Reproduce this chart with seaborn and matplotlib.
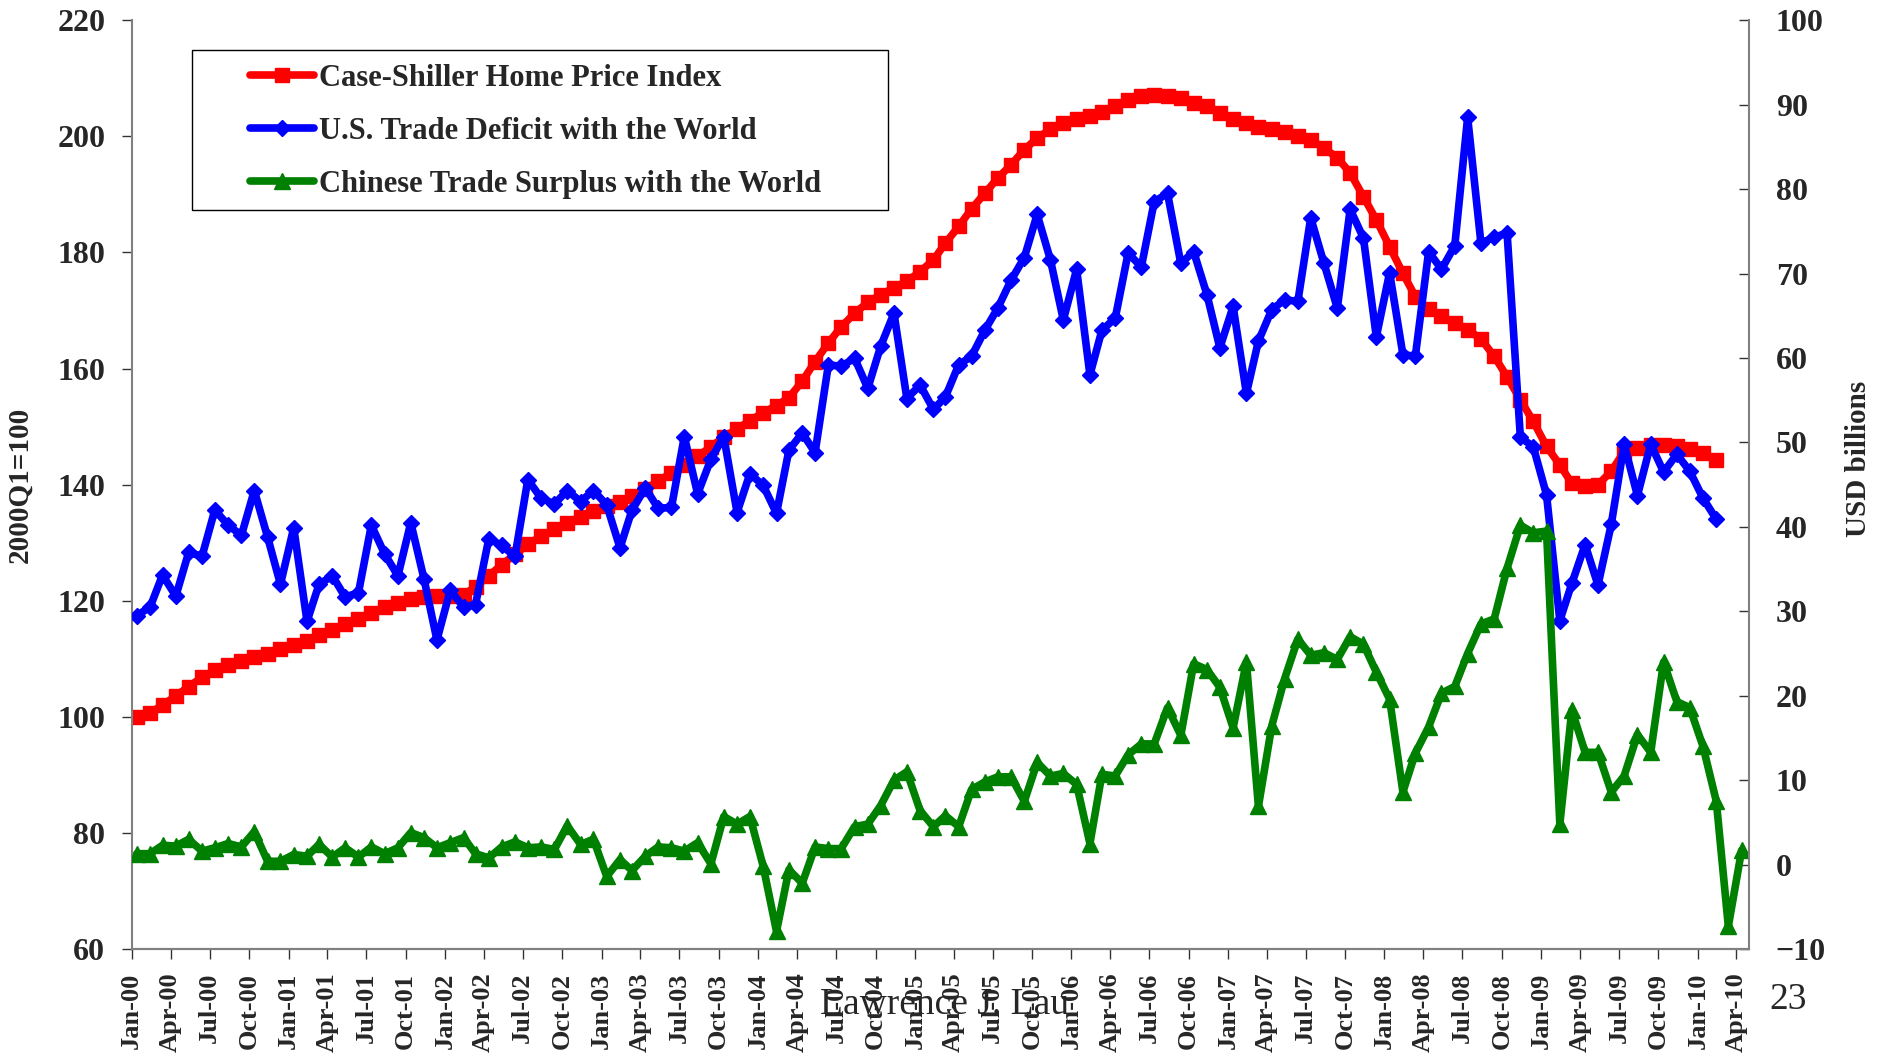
import pandas as pd
import seaborn as sns
import matplotlib
import matplotlib.pyplot as plt
import matplotlib.dates as mdates
from matplotlib.patches import Rectangle

matplotlib.use('Agg')

# Monthly series, Jan-2000 onwards
start_month = '2000-01-01'

# S&P/Case-Shiller home price index (left axis), Jan-00 .. Feb-10
case_shiller = [
    100.0, 100.7, 102.0, 103.6, 105.2, 106.8, 108.0, 109.0, 109.6, 110.3, 110.9, 111.7,
    112.3, 113.1, 114.1, 115.0, 116.0, 116.9, 117.9, 118.9, 119.6, 120.3, 120.6, 120.8,
    120.8, 121.0, 122.4, 124.3, 126.2, 128.0, 129.7, 131.1, 132.3, 133.4, 134.5, 135.5,
    136.3, 137.0, 138.1, 139.2, 140.6, 142.0, 143.4, 144.9, 146.5, 148.2, 149.6, 151.0,
    152.4, 153.6, 155.0, 157.8, 161.2, 164.4, 167.2, 169.5, 171.4, 172.7, 173.9, 175.0,
    176.7, 178.7, 181.6, 184.5, 187.5, 190.2, 192.8, 195.1, 197.7, 199.7, 201.2, 202.3,
    202.9, 203.5, 204.2, 205.2, 206.2, 206.9, 207.2, 207.0, 206.6, 205.8, 205.3, 204.0,
    203.0, 202.3, 201.6, 201.3, 200.7, 200.0, 199.4, 198.0, 196.3, 193.7, 189.6, 185.6,
    181.0, 176.4, 172.4, 170.2, 169.0, 167.9, 166.7, 165.1, 162.1, 158.6, 154.6, 150.9,
    146.6, 143.4, 140.2, 139.7, 140.0, 142.3, 145.7, 146.3, 146.9, 146.9, 146.6, 146.1,
    145.5, 144.2,
]

# U.S. trade deficit with the world, USD billions (right axis), Jan-00 .. Feb-10
us_deficit = [
    29.5, 30.5, 34.3, 31.8, 37.0, 36.5, 42.0, 40.2, 39.0, 44.3, 38.8, 33.2,
    39.9, 28.8, 33.2, 34.2, 31.7, 32.2, 40.2, 36.8, 34.2, 40.5, 33.8, 26.6,
    32.5, 30.5, 30.8, 38.6, 37.8, 36.5, 45.6, 43.4, 42.7, 44.3, 43.0, 44.3,
    42.6, 37.5, 42.0, 44.6, 42.2, 42.3, 50.7, 43.9, 48.0, 50.7, 41.7, 46.3,
    44.9, 41.6, 49.1, 51.1, 48.8, 59.2, 59.0, 60.0, 56.4, 61.4, 65.3, 55.2,
    56.8, 53.9, 55.4, 59.2, 60.2, 63.3, 65.9, 69.2, 71.9, 77.0, 71.6, 64.5,
    70.5, 58.0, 63.3, 64.7, 72.4, 70.8, 78.5, 79.5, 71.2, 72.6, 67.5, 61.2,
    66.1, 55.8, 62.0, 65.7, 66.9, 66.7, 76.6, 71.2, 65.9, 77.6, 74.2, 62.5,
    70.1, 60.4, 60.2, 72.6, 70.5, 73.3, 88.5, 73.6, 74.3, 74.8, 50.6, 49.5,
    43.8, 28.9, 33.3, 37.9, 33.1, 40.3, 49.8, 43.7, 49.8, 46.5, 48.6, 46.6,
    43.4, 40.9,
]

# Chinese trade surplus with the world, USD billions (right axis), Jan-00 .. Apr-10
china_surplus = [
    1.3, 1.3, 2.3, 2.2, 3.0, 1.6, 2.0, 2.5, 2.1, 3.9, 0.4, 0.4,
    1.2, 1.0, 2.4, 0.9, 2.0, 0.9, 2.1, 1.3, 2.0, 3.8, 3.2, 2.0,
    2.6, 3.2, 1.3, 0.8, 2.1, 2.7, 2.0, 2.1, 1.8, 4.6, 2.4, 3.0,
    -1.4, 0.6, -0.7, 1.0, 2.1, 2.0, 1.6, 2.6, 0.1, 5.7, 4.8, 5.7,
    -0.2, -7.9, -0.6, -2.2, 2.1, 1.9, 1.9, 4.5, 4.8, 7.0, 10.0, 11.0,
    6.4, 4.5, 5.8, 4.5, 8.9, 9.8, 10.4, 10.4, 7.5, 12.1, 10.5, 10.8,
    9.5, 2.5, 10.7, 10.5, 13.0, 14.3, 14.3, 18.6, 15.3, 23.8, 23.1, 21.0,
    16.2, 24.0, 6.9, 16.4, 22.0, 26.7, 24.8, 25.1, 24.3, 27.0, 26.1, 22.8,
    19.6, 8.6, 13.2, 16.3, 20.3, 21.1, 25.0, 28.5, 29.1, 35.1, 40.2, 39.3,
    39.5, 4.8, 18.3, 13.3, 13.3, 8.6, 10.5, 15.4, 13.3, 24.0, 19.3, 18.6,
    14.0, 7.5, -7.3, 1.7,
]

labels = [
    'Case-Shiller Home Price Index',
    'U.S. Trade Deficit with the World',
    'Chinese Trade Surplus with the World',
]


def main():
    sns.set_style('white')
    plt.rcParams['font.family'] = ['Liberation Serif', 'DejaVu Serif']
    plt.rcParams['font.weight'] = 'bold'
    plt.rcParams['axes.labelweight'] = 'bold'

    # monthly observations, plotted a little after the first of the month
    months = pd.date_range(start_month, periods=len(china_surplus), freq='MS') + pd.Timedelta(days=12)

    fig = plt.figure(figsize=(18.81, 10.64), dpi=100)
    ax = fig.add_axes([0.070, 0.108, 0.860, 0.873])
    ax2 = ax.twinx()

    line_kw = dict(linewidth=5.5, markeredgewidth=1)
    sns.lineplot(x=months[:len(case_shiller)], y=case_shiller, ax=ax, color='#ff0000',
                 marker='s', markersize=9.5, markeredgecolor='#ff0000', label=labels[0], **line_kw)
    sns.lineplot(x=months[:len(us_deficit)], y=us_deficit, ax=ax2, color='#0000ff',
                 marker='D', markersize=8.5, markeredgecolor='#0000ff', label=labels[1], **line_kw)
    sns.lineplot(x=months, y=china_surplus, ax=ax2, color='#008000',
                 marker='^', markersize=11.5, markeredgecolor='#008000', label=labels[2], **line_kw)

    for a in (ax, ax2):
        if a.get_legend() is not None:
            a.get_legend().remove()

    # axes ranges
    ax.set_xlim(pd.Timestamp('2000-01-01'), pd.Timestamp('2010-05-01'))
    ax.set_ylim(60, 220)
    ax.set_yticks(range(60, 221, 20))
    ax2.set_ylim(-10, 100)
    ax2.set_yticks(range(-10, 101, 10))

    ax.xaxis.set_major_locator(mdates.MonthLocator(bymonth=[1, 4, 7, 10]))
    ax.xaxis.set_major_formatter(mdates.DateFormatter('%b-%y'))

    # spines
    for a in (ax, ax2):
        a.spines['top'].set_visible(False)
        for s in a.spines.values():
            s.set_color('#808080')
            s.set_linewidth(1.5)
    ax.spines['right'].set_visible(False)
    ax2.spines['left'].set_visible(False)

    ax.tick_params(axis='y', direction='out', length=7, width=1, color='#333333', pad=12, labelsize=23, left=True)
    ax2.tick_params(axis='y', direction='in', length=7, width=1, color='#333333', pad=19, labelsize=23, right=True)
    ax.tick_params(axis='x', direction='out', length=7, width=1, color='#333333', pad=10, labelsize=19,
                   labelrotation=90, bottom=True)

    ax.set_xlabel('')
    ax.set_ylabel('2000Q1=100', fontsize=21, fontweight='bold')
    ax.yaxis.set_label_coords(-0.061, 0.5)
    ax2.set_ylabel('USD billions', fontsize=21, fontweight='bold')
    ax2.yaxis.set_label_coords(1.059, 0.528)

    # legend with its own frame
    handles = ax.get_lines()[:1] + ax2.get_lines()[:2]
    ax2.legend(handles, labels, loc='upper left', bbox_to_anchor=(250 / 1881, 1 - 64 / 1064),
               bbox_transform=fig.transFigure, frameon=False, fontsize=22, borderpad=0,
               borderaxespad=0, handlelength=2.1, handletextpad=0.15, labelspacing=0.78, numpoints=1)
    fig.add_artist(Rectangle((192 / 1881, 1 - 210 / 1064), 696 / 1881, 160 / 1064,
                             transform=fig.transFigure, fill=False, edgecolor='black', linewidth=1))

    # slide footer
    fig.text(945 / 1881, 1 - 1005 / 1064, 'Lawrence J. Lau', ha='center', va='center',
             fontsize=27, fontweight='normal')
    fig.text(1788 / 1881, 1 - 1000 / 1064, '23', ha='center', va='center',
             fontsize=27, fontweight='normal')

    fig.savefig('out.png', dpi=100)


if __name__ == '__main__':
    main()
